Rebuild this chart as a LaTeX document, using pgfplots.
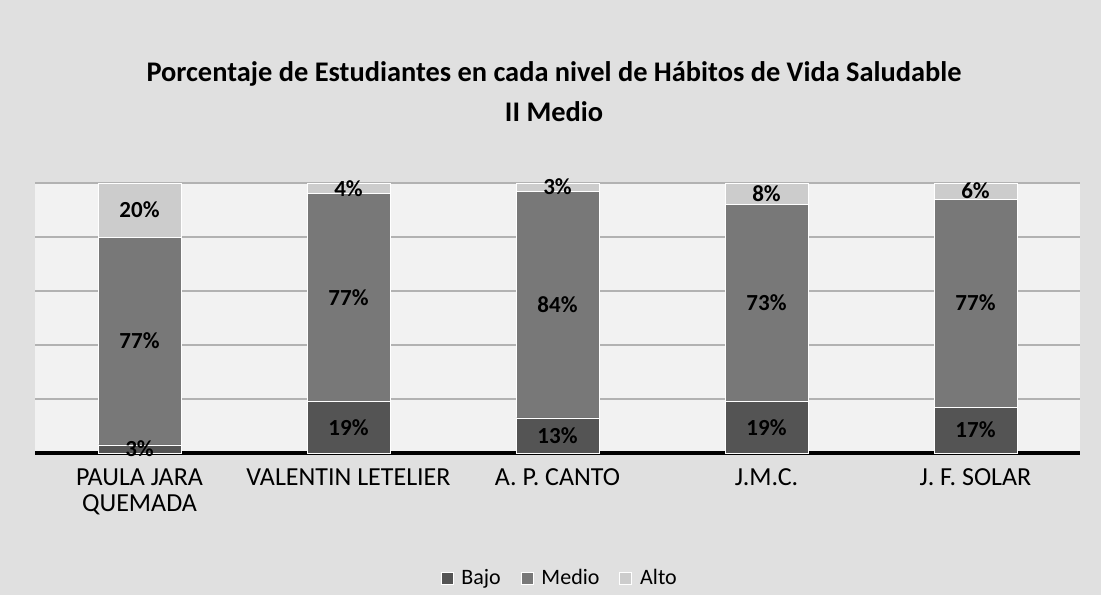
\documentclass[border=0pt]{standalone}
\usepackage{pgfplots}
\pgfplotsset{compat=1.18}
\usepackage{pgfplotstable}
\usepackage{fontspec}
\setmainfont{Carlito}
\definecolor{bajo}{gray}{0.33}
\definecolor{medio}{gray}{0.47}
\definecolor{alto}{gray}{0.80}
\definecolor{bg}{gray}{0.88}
\definecolor{plotbg}{gray}{0.95}

\pgfplotstableread{
x bajo medio alto
0 3 77 20
1 19 77 4
2 13 84 3
3 19 73 8
4 17 77 6
}\datatab

\pgfplotstableread{
x y v
0 1.5 3
0 41.5 77
0 90 20
1 9.5 19
1 57.5 77
1 98 4
2 6.5 13
2 55 84
2 98.5 3
3 9.5 19
3 55.5 73
3 96 8
4 8.5 17
4 55.5 77
4 97 6
}\labtab

\begin{document}
\begin{tikzpicture}
\fill[bg] (-17.5pt,-71pt) rectangle (533pt,226.5pt);
\path[use as bounding box] (-17.5pt,-71pt) rectangle (533pt,226.5pt);
\fill[plotbg] (0pt,0pt) rectangle (522.5pt,135pt);
\begin{axis}[
  at={(0pt,0pt)}, anchor=south west,
  scale only axis, width=522.5pt, height=135pt,
  xmin=-0.5, xmax=4.5, ymin=0, ymax=100,
  ybar stacked, bar width=41.5pt,
  axis y line*=left, y axis line style={draw=none},
  yticklabels={},
  axis x line*=bottom,
  x axis line style={black, line width=2pt, -},
  xtick=data,
  xticklabels={{PAULA JARA\\QUEMADA},{VALENTIN LETELIER},{A. P. CANTO},{J.M.C.},{J. F. SOLAR}},
  xticklabel style={align=center, anchor=north, font=\fontsize{13}{12.8}\selectfont, yshift=-4pt},
  typeset ticklabels with strut,
  major tick length=0pt,
  ytick={20,40,60,80,100},
  ymajorgrids, grid style={gray!60, line width=0.6pt},
  legend style={at={(0.503,-0.463)}, anchor=center, draw=none, fill=none,
    legend columns=3, font=\fontsize{11}{12}\selectfont,
    /tikz/every odd column/.append style={column sep=2pt},
    /tikz/every even column/.append style={column sep=8pt}},
  legend image code/.code={\fill[#1] (0pt,-3pt) rectangle (6pt,3pt);},
]
\addplot[fill=bajo, draw=white, line width=0.4pt] table[x=x, y=bajo] {\datatab};
\addlegendentry{Bajo}
\addplot[fill=medio, draw=white, line width=0.4pt] table[x=x, y=medio] {\datatab};
\addlegendentry{Medio}
\addplot[fill=alto, draw=white, line width=0.4pt] table[x=x, y=alto] {\datatab};
\addlegendentry{Alto}
\end{axis}
\begin{axis}[
  at={(0pt,0pt)}, anchor=south west,
  scale only axis, width=522.5pt, height=135pt,
  xmin=-0.5, xmax=4.5, ymin=0, ymax=100,
  hide axis,
]
\addplot[draw=none, mark=none, point meta=explicit,
  nodes near coords={\pgfmathprintnumber[assume math mode=true]{\pgfplotspointmeta}\%},
  nodes near coords style={anchor=center, font=\bfseries\fontsize{11.5}{12}\selectfont, text=black}]
  table[x=x, y=y, meta=v] {\labtab};
\end{axis}
\node[align=center, font=\bfseries\fontsize{14.2}{20}\selectfont] at (259.5pt,180.5pt)
  {Porcentaje de Estudiantes en cada nivel de Hábitos de Vida Saludable\\II Medio};
\end{tikzpicture}
\end{document}
